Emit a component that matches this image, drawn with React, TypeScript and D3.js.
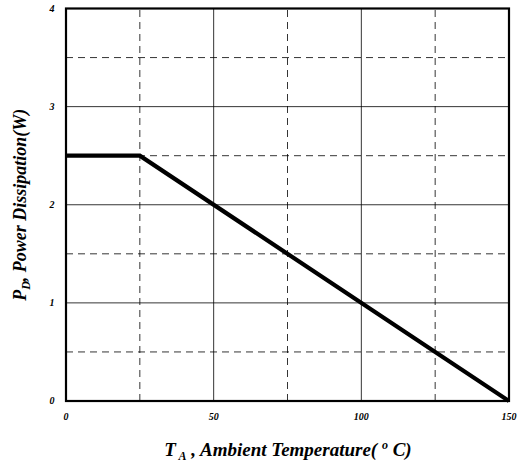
import React from "react";
import * as d3 from "d3";

const xTicks = [0, 50, 100, 150];
const yTicks = [0, 1, 2, 3, 4];
const xSolidGrid = [50, 100];
const xDashedGrid = [25, 75, 125];
const ySolidGrid = [1, 2, 3];
const yDashedGrid = [0.5, 1.5, 2.5, 3.5];
const tempC = [0, 25, 150];
const powerW = [2.5, 2.5, 0];

const W = 517;
const H = 469;
const margin = { left: 66, right: 8, top: 8.5, bottom: 68 };

export default function App() {
  const x = d3.scaleLinear().domain([0, 150]).range([margin.left, W - margin.right]);
  const y = d3.scaleLinear().domain([0, 4]).range([H - margin.bottom, margin.top]);
  const pts = tempC.map((t, i) => [t, powerW[i]] as [number, number]);
  const line = d3.line<[number, number]>().x((d) => x(d[0])).y((d) => y(d[1]));
  const font = "'Liberation Serif', 'Times New Roman', serif";
  const x0 = x(0), x1 = x(150), y0 = y(0), y1 = y(4);
  return (
    <svg width={W} height={H} style={{ position: "absolute", left: 0, top: 0, background: "#fff" }}>
      <rect x={0} y={0} width={W} height={H} fill="#fff" />
      {xDashedGrid.map((v) => (
        <line key={"xd" + v} x1={x(v)} x2={x(v)} y1={y0} y2={y1} stroke="#000" strokeWidth={0.8} strokeDasharray="7,5" />
      ))}
      {yDashedGrid.map((v) => (
        <line key={"yd" + v} x1={x0} x2={x1} y1={y(v)} y2={y(v)} stroke="#000" strokeWidth={0.8} strokeDasharray="7,5" />
      ))}
      {xSolidGrid.map((v) => (
        <line key={"xs" + v} x1={x(v)} x2={x(v)} y1={y0} y2={y1} stroke="#000" strokeWidth={0.8} />
      ))}
      {ySolidGrid.map((v) => (
        <line key={"ys" + v} x1={x0} x2={x1} y1={y(v)} y2={y(v)} stroke="#000" strokeWidth={0.8} />
      ))}
      <rect x={x0} y={y1} width={x1 - x0} height={y0 - y1} fill="none" stroke="#000" strokeWidth={2.2} />
      <path d={line(pts) || ""} fill="none" stroke="#000" strokeWidth={4.2} strokeLinejoin="miter" />
      {xTicks.map((v) => (
        <text key={"xt" + v} x={x(v)} y={y0 + 19} textAnchor="middle" fontFamily={font} fontWeight="bold" fontStyle="italic" fontSize={10}>
          {v}
        </text>
      ))}
      {yTicks.map((v) => (
        <text key={"yt" + v} x={x0 - 14} y={y(v) + 3} textAnchor="middle" fontFamily={font} fontWeight="bold" fontStyle="italic" fontSize={10}>
          {v}
        </text>
      ))}
      <text x={288} y={456} textAnchor="middle" fontFamily={font} fontWeight="bold" fontStyle="italic" fontSize={19}>
        <tspan>T</tspan>
        <tspan fontSize={12} dy={4}> A</tspan>
        <tspan dy={-4}> , Ambient Temperature( </tspan>
        <tspan fontSize={12} dy={-7}>o</tspan>
        <tspan dy={7}> C)</tspan>
      </text>
      <text transform={`translate(26,${(y0 + y1) / 2}) rotate(-90)`} textAnchor="middle" fontFamily={font} fontWeight="bold" fontStyle="italic" fontSize={18}>
        <tspan>P</tspan>
        <tspan fontSize={12} dy={4}>D</tspan>
        <tspan dy={-4}>, Power Dissipation(W)</tspan>
      </text>
    </svg>
  );
}
